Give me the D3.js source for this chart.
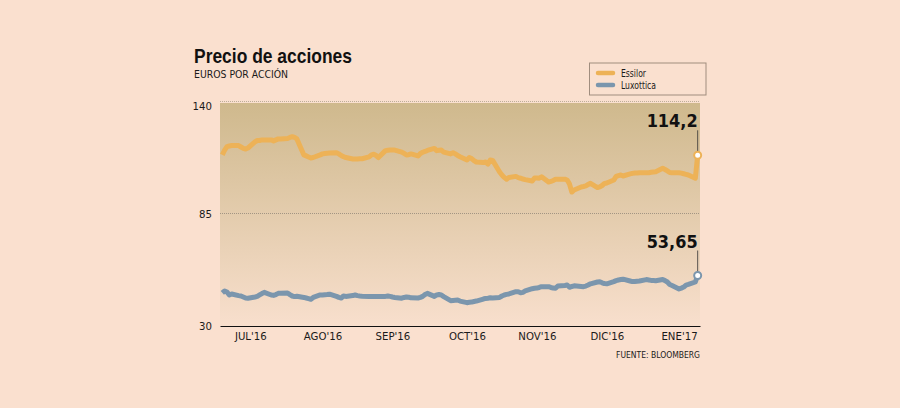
<!DOCTYPE html>
<html>
<head>
<meta charset="utf-8">
<script src="https://cdn.jsdelivr.net/npm/d3@7"></script>
<style>
  body { margin: 0; background: #fae0cf; }
  text { font-family: "DejaVu Sans", sans-serif; font-stretch: condensed; fill: #1a1a1a; }
</style>
</head>
<body>
<div id="chart"></div>
<script>
// weekly rows, Monday to Friday, from 4 Jul 2016
var essilor = [
  114.4,116.8,118.5,118.8,119.0, 119.0,118.3,117.6,117.3,117.8,
  120.8,121.5,121.5,121.8,121.8, 121.8,121.3,121.8,122.3,122.3,
  122.5,123.0,123.4,123.0,122.3, 114.4,113.9,113.4,112.9,113.1,
  114.4,114.9,115.1,115.2,115.3, 115.5,114.9,114.1,113.5,113.1,
  112.4,112.4,112.4,112.5,112.5, 113.4,114.4,114.7,114.1,113.1,
  116.5,116.7,116.8,116.8,116.8, 115.8,115.1,114.4,114.5,114.9,
  113.9,115.1,115.7,116.1,116.6, 117.6,116.5,116.7,116.8,115.8,
  114.9,115.5,114.9,114.1,113.5, 111.9,113.1,112.6,111.6,110.9,
  110.6,110.9,109.9,111.9,111.7, 106.0,104.5,103.3,102.4,103.3,
  103.8,103.2,102.9,102.5,102.2, 101.5,103.0,103.0,102.9,103.6,
  101.0,101.3,101.8,102.4,102.4, 102.4,102.0,100.0,96.1,97.1,
  98.6,98.8,99.1,99.8,100.4, 98.3,98.6,99.3,100.3,100.5,
  102.0,103.8,104.2,104.5,104.0, 105.0,105.3,105.5,105.5,105.6,
  105.6,105.6,105.8,106.0,106.1, 107.8,107.2,106.5,105.7,105.6,
  105.6,105.4,105.1,104.8,104.5, 102.9,114.2
];
var luxottica = [
  46.3,47.3,46.8,45.3,45.8, 45.0,44.8,44.3,43.8,43.7,
  44.3,44.6,45.3,46.0,46.6, 45.3,45.1,45.5,46.1,46.2,
  46.3,45.5,44.8,44.5,44.7, 44.1,43.8,43.5,43.2,44.1,
  45.3,45.3,45.4,45.5,45.7, 44.6,44.1,43.8,44.8,44.6,
  45.0,45.3,45.0,44.8,44.7, 44.5,44.5,44.6,44.5,44.5,
  44.6,44.8,44.6,44.3,44.1, 43.7,44.1,44.3,44.2,43.9,
  43.8,44.1,44.6,45.5,46.1, 44.6,45.3,45.5,45.3,44.5,
  42.5,42.6,42.7,42.8,42.3, 41.5,41.7,41.8,42.1,42.3,
  43.3,43.6,43.7,43.9,43.8, 44.1,44.8,45.3,45.6,45.8,
  46.9,46.9,46.4,46.6,47.3, 48.4,48.6,48.7,49.0,49.4,
  49.4,49.0,48.7,48.6,49.7, 50.0,50.2,49.1,49.5,49.8,
  49.5,49.4,49.7,50.2,50.8, 51.7,51.8,51.3,50.9,50.8,
  51.9,52.4,52.7,52.9,53.1, 52.2,51.9,52.0,52.1,52.2,
  52.9,52.7,52.5,52.4,52.3, 52.9,52.4,51.7,50.5,50.0,
  48.3,48.7,49.2,50.2,50.5, 51.7,54.9
];
var seriesNames = ["Essilor", "Luxottica"];
var lastLabels = ["114,2", "53,65"];
var monthLabels = ["JUL'16", "AGO'16", "SEP'16", "OCT'16", "NOV'16", "DIC'16", "ENE'17"];
var monthDates = ["2016-07-16", "2016-08-16", "2016-09-15", "2016-10-17", "2016-11-16", "2016-12-16", "2017-01-16"];
var yTicks = [30, 85, 140];

var colors = ["#edb257", "#7b96ad"];
var parseDay = d3.utcParse("%Y-%m-%d");

// trading days behind the two series
var dates = d3.utcDay.range(parseDay("2016-07-04"), parseDay("2017-01-25"))
  .filter(function(d) { return d.getUTCDay() > 0 && d.getUTCDay() < 6; });

// the original type is narrower than anything installed
function squeeze(sel, width) {
  sel.attr("textLength", width).attr("lengthAdjust", "spacingAndGlyphs");
}

var svg = d3.select("#chart").append("svg")
  .attr("width", 900)
  .attr("height", 408)
  .style("display", "block");

var x = d3.scaleUtc()
  .domain([parseDay("2016-07-03"), parseDay("2017-01-25")])
  .range([220, 700]);

var y = d3.scaleLinear()
  .domain([30, 140])
  .range([326, 103]);

var grad = svg.append("defs").append("linearGradient")
  .attr("id", "bg")
  .attr("x1", 0).attr("y1", 0).attr("x2", 0).attr("y2", 1);
grad.append("stop").attr("offset", "0%").attr("stop-color", "#cfb98d");
grad.append("stop").attr("offset", "100%").attr("stop-color", "#f8dfcd");

svg.append("rect")
  .attr("x", x.range()[0])
  .attr("y", y(140))
  .attr("width", x.range()[1] - x.range()[0])
  .attr("height", y(30) - y(140))
  .attr("fill", "url(#bg)");

// dotted lines at the upper ticks, the top one is fainter
svg.selectAll(".grid")
  .data([85, 140])
  .enter().append("line")
  .attr("class", "grid")
  .attr("x1", x.range()[0])
  .attr("x2", x.range()[1])
  .attr("y1", function(d) { return Math.round(y(d)) - 1.5; })
  .attr("y2", function(d) { return Math.round(y(d)) - 1.5; })
  .attr("stroke", function(d) { return d == 140 ? "#bdae99" : "#a39583"; })
  .attr("stroke-width", 1)
  .attr("stroke-dasharray", "1,1");

var yAxis = svg.append("g")
  .attr("transform", "translate(216,0)")
  .call(d3.axisLeft(y).tickValues(yTicks).tickSize(0).tickPadding(4));
yAxis.select(".domain").remove();
yAxis.selectAll("text")
  .style("font-size", "11.3px")
  .attr("dy", function(d) { return d == 140 ? "0.6em" : d == 85 ? "0.25em" : "0.32em"; });

var xAxis = svg.append("g")
  .attr("transform", "translate(0,326)")
  .call(d3.axisBottom(x)
    .tickValues(monthDates.map(parseDay))
    .tickSize(0)
    .tickPadding(6)
    .tickFormat(function(d, i) { return monthLabels[i]; }));
xAxis.select(".domain")
  .attr("stroke", "#111")
  .attr("stroke-width", 1);
xAxis.selectAll("text").style("font-size", "11.3px");

var line = d3.line()
  .x(function(d, i) { return x(dates[i]); })
  .y(function(d) { return y(d); });

[essilor, luxottica].forEach(function(values, s) {
  var n = values.length - 1;
  var px = x(dates[n]);
  var py = y(values[n]);

  svg.append("path")
    .datum(values)
    .attr("d", line)
    .attr("fill", "none")
    .attr("stroke", colors[s])
    .attr("stroke-width", 5)
    .attr("stroke-linejoin", "round");

  svg.append("line")
    .attr("x1", px).attr("x2", px)
    .attr("y1", py - 25).attr("y2", py)
    .attr("stroke", "#333")
    .attr("stroke-width", 0.8);

  svg.append("circle")
    .attr("cx", px)
    .attr("cy", py)
    .attr("r", 3.5)
    .attr("fill", "#fff")
    .attr("stroke", colors[s])
    .attr("stroke-width", 2);

  svg.append("text")
    .attr("x", px)
    .attr("y", py - 28)
    .attr("text-anchor", "end")
    .style("font-size", "18.5px")
    .style("font-weight", "bold")
    .style("fill", "#111")
    .text(lastLabels[s])
    .call(squeeze, 51);
});

svg.append("text")
  .attr("x", 194)
  .attr("y", 63)
  .style("font-family", "'Liberation Sans', sans-serif")
  .style("font-size", "21px")
  .style("font-weight", "bold")
  .style("fill", "#111")
  .text("Precio de acciones")
  .call(squeeze, 158);

svg.append("text")
  .attr("x", 194)
  .attr("y", 78)
  .style("font-size", "10.5px")
  .text("EUROS POR ACCIÓN")
  .call(squeeze, 94);

svg.append("text")
  .attr("x", 700)
  .attr("y", 358)
  .attr("text-anchor", "end")
  .style("font-size", "9.5px")
  .text("FUENTE: BLOOMBERG")
  .call(squeeze, 84);

// legend
svg.append("rect")
  .attr("x", 589.5)
  .attr("y", 63)
  .attr("width", 116.5)
  .attr("height", 32)
  .attr("fill", "none")
  .attr("stroke", "#a08d7e")
  .attr("stroke-width", 1);

var legendWidths = [25, 35];
seriesNames.forEach(function(name, s) {
  var ly = 73 + s * 12;
  svg.append("line")
    .attr("x1", 598).attr("x2", 613)
    .attr("y1", ly).attr("y2", ly)
    .attr("stroke", colors[s])
    .attr("stroke-width", 4.5)
    .attr("stroke-linecap", "round");
  svg.append("text")
    .attr("x", 621)
    .attr("y", ly + 4)
    .style("font-size", "10.5px")
    .text(name)
    .call(squeeze, legendWidths[s]);
});
</script>
</body>
</html>
